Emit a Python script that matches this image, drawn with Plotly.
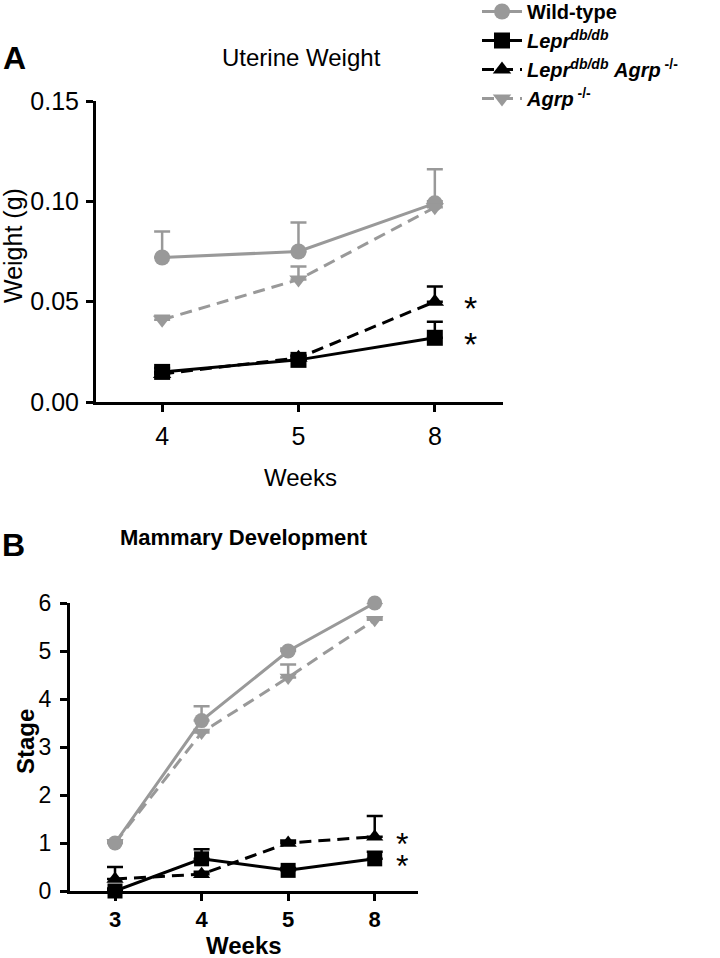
import plotly.graph_objects as go

# ---------------- data ----------------
weeks_a = ["4", "5", "8"]
weeks_b = ["3", "4", "5", "8"]

series_names = [
    "<b>Wild-type</b>",
    "<b><i>Lepr</i><sup><i>db/db</i></sup></b>",
    "<b><i>Lepr</i><sup><i>db/db</i></sup> <i>Agrp</i><sup> -/-</sup></b>",
    "<b><i>Agrp</i><sup> -/-</sup></b>",
]

# Panel A: uterine weight (g), mean and upper SEM
uw_wt = [0.072, 0.075, 0.099]
uw_wt_err = [0.013, 0.0145, 0.017]
uw_lepr = [0.015, 0.021, 0.032]
uw_lepr_err = [0.002, 0.002, 0.008]
uw_lepr_agrp = [0.014, 0.022, 0.050]
uw_lepr_agrp_err = [0.001, 0.001, 0.0075]
uw_agrp = [0.041, 0.061, 0.097]
uw_agrp_err = [0.002, 0.0065, 0.003]

# Panel B: mammary development stage, mean and upper SEM
md_wt = [1.0, 3.55, 5.0, 6.0]
md_wt_err = [0.05, 0.3, 0.05, 0.05]
md_lepr = [0.0, 0.67, 0.43, 0.67]
md_lepr_err = [0.05, 0.2, 0.05, 0.15]
md_lepr_agrp = [0.25, 0.35, 1.0, 1.13]
md_lepr_agrp_err = [0.25, 0.05, 0.05, 0.43]
md_agrp = [1.0, 3.3, 4.45, 5.65]
md_agrp_err = [0.05, 0.05, 0.27, 0.05]

yticks_a = [0.00, 0.05, 0.10, 0.15]
yticklabels_a = ["0.00", "0.05", "0.10", "0.15"]
yticks_b = [0, 1, 2, 3, 4, 5, 6]

# ---------------- style ----------------
GREY = "#999999"
BLACK = "#000000"
FONT = "Liberation Sans, Arial, sans-serif"
DASH = "12px,7px"

styles = [
    dict(color=GREY, symbol="circle", dash="solid"),
    dict(color=BLACK, symbol="square", dash="solid"),
    dict(color=BLACK, symbol="triangle-up", dash=DASH),
    dict(color=GREY, symbol="triangle-down", dash=DASH),
]

fig = go.Figure()

panel_a = [(uw_wt, uw_wt_err), (uw_lepr, uw_lepr_err),
           (uw_lepr_agrp, uw_lepr_agrp_err), (uw_agrp, uw_agrp_err)]
panel_b = [(md_wt, md_wt_err), (md_lepr, md_lepr_err),
           (md_lepr_agrp, md_lepr_agrp_err), (md_agrp, md_agrp_err)]

# draw order: grey first, black on top (legend order kept via legendrank)
order = [0, 3, 2, 1]
for i in order:
    st = styles[i]
    y, e = panel_a[i]
    fig.add_trace(go.Scatter(
        x=weeks_a, y=y, mode="lines+markers", name=series_names[i],
        legendrank=i + 1,
        line=dict(color=st["color"], width=3, dash=st["dash"]),
        marker=dict(symbol=st["symbol"], size=16, color=st["color"]),
        error_y=dict(type="data", array=e, arrayminus=[0] * len(e), symmetric=False,
                     color=st["color"], thickness=2.5, width=8),
        xaxis="x", yaxis="y", cliponaxis=False,
    ))
for i in order:
    st = styles[i]
    y, e = panel_b[i]
    fig.add_trace(go.Scatter(
        x=weeks_b, y=y, mode="lines+markers", name=series_names[i],
        showlegend=False,
        line=dict(color=st["color"], width=3, dash=st["dash"]),
        marker=dict(symbol=st["symbol"], size=15, color=st["color"]),
        error_y=dict(type="data", array=e, arrayminus=[0] * len(e), symmetric=False,
                     color=st["color"], thickness=2.5, width=8),
        xaxis="x2", yaxis="y2", cliponaxis=False,
    ))

W, H = 720, 958

def px(x):
    return x / W

def py(y):
    return 1 - y / H

axis_common = dict(showline=True, linecolor="black", linewidth=3, ticks="outside",
                   ticklen=7, tickwidth=3, tickcolor="black", showgrid=False,
                   zeroline=False, mirror=False)

fig.update_layout(
    width=W, height=H,
    margin=dict(l=0, r=0, t=0, b=0, autoexpand=False),
    paper_bgcolor="white", plot_bgcolor="white",
    font=dict(family=FONT, color="black"),
    showlegend=True,
    legend=dict(x=px(477), y=py(-8), xanchor="left", yanchor="top",
                font=dict(size=20, family=FONT, color="black"),
                bgcolor="rgba(0,0,0,0)", tracegroupgap=0, itemwidth=40),
    xaxis=dict(domain=[px(96), px(503)], anchor="y", type="category",
               range=[-0.485, 2.5], tickfont=dict(size=25), ticklabelstandoff=3,
               **axis_common),
    yaxis=dict(domain=[py(402), py(101)], anchor="x", range=[0, 0.15],
               tickvals=yticks_a, ticktext=yticklabels_a, ticklabelstandoff=2,
               tickfont=dict(size=25), **axis_common),
    xaxis2=dict(domain=[px(70), px(418)], anchor="y2", type="category",
                range=[-0.52, 3.5], tickfont=dict(size=22), **axis_common),
    yaxis2=dict(domain=[py(891), py(603)], anchor="x2", range=[0, 6],
                tickvals=yticks_b, tickfont=dict(size=23), ticklabelstandoff=4,
                **axis_common),
)
fig.update_xaxes(tickprefix="<b>", ticksuffix="</b>", selector=dict(anchor="y2"))
fig.update_yaxes(tickprefix="<b>", ticksuffix="</b>", selector=dict(anchor="x2"))

def ann(text, x, y, size, angle=0, xanchor="center", yanchor="middle"):
    fig.add_annotation(text=text, x=px(x), y=py(y), xref="paper", yref="paper",
                       showarrow=False, font=dict(size=size, family=FONT, color="black"),
                       textangle=angle, xanchor=xanchor, yanchor=yanchor)

ann("<b>A</b>", 1, 58, 32, xanchor="left")
ann("Uterine Weight", 301, 58, 24)
ann("Weight (g)", 13, 246, 25, angle=-90)
ann("Weeks", 300, 477, 24)

ann("<b>B</b>", 0, 545, 32, xanchor="left")
ann("<b>Mammary Development</b>", 244, 537, 22)
ann("<b>Stage</b>", 25, 742, 24, angle=-90)
ann("<b>Weeks</b>", 244, 945, 24)

# significance asterisks (anchored to the last category of each panel)
last_a = len(weeks_a) - 1
last_b = len(weeks_b) - 1
for yv in (uw_lepr_agrp[last_a], uw_lepr[last_a]):
    fig.add_annotation(text="*", x=last_a, y=yv, xref="x", yref="y", xshift=36, yshift=-6,
                       showarrow=False, font=dict(size=34, family=FONT, color="black"))
for yv in (md_lepr_agrp[last_b], md_lepr[last_b]):
    fig.add_annotation(text="*", x=last_b, y=yv, xref="x2", yref="y2", xshift=27, yshift=-7,
                       showarrow=False, font=dict(size=32, family=FONT, color="black"))

# the page's default body margin would offset the figure by 8px
fig.write_html("out.html", config={"displayModeBar": False},
               post_script="document.body.style.margin='0px';")
